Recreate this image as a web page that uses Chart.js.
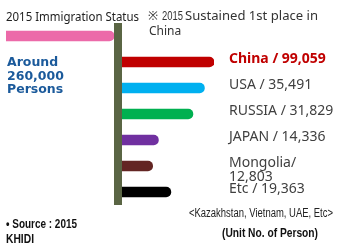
<!DOCTYPE html>
<html><head><meta charset="utf-8">
<script src="https://cdn.jsdelivr.net/npm/chart.js@4.4.1/dist/chart.umd.min.js"></script>
<style>html,body{margin:0;padding:0;background:#fff}#wrap{width:339px;height:244px;position:relative}</style>
</head><body><div id="wrap"><canvas id="c"></canvas></div>
<script>
// ---- data ----
const categories = ['Total', 'China', 'USA', 'RUSSIA', 'JAPAN', 'Mongolia', 'Etc'];
const persons = [260000, 99059, 35491, 31829, 14336, 12803, 19363];
// bar lengths as drawn in the infographic (index, China = 100; the bars are not to scale)
const barIndex = [117, 100, 90, 78, 42, 36, 55];
const totalLabel = ['Around', '260,000', 'Persons'];
const otherNote = '<Kazakhstan, Vietnam, UAE, Etc>';

const fmt = n => n.toLocaleString('en-US');
const valueLabels = categories.map((c, i) => i === 0 ? null :
  (c === 'Mongolia' ? [c + '/', fmt(persons[i])] : [c + ' / ' + fmt(persons[i])]));

const BASE = '"Noto Sans", "Noto Sans CJK KR", sans-serif';

function fitText(ctx, text, x, y, font, color, width) {
  ctx.save();
  ctx.font = font;
  ctx.fillStyle = color;
  ctx.textBaseline = 'alphabetic';
  ctx.textAlign = 'left';
  const w = ctx.measureText(text).width;
  const s = width ? width / w : 1;
  ctx.translate(x, y);
  ctx.scale(s, 1);
  ctx.fillText(text, 0, 0);
  ctx.restore();
}

const labelPlugin = {
  id: 'labels',
  afterDatasetsDraw(chart) {
    const ctx = chart.ctx;
    const meta = chart.getDatasetMeta(0);
    const x = chart.chartArea.right + 15;
    meta.data.forEach((bar, i) => {
      const lines = valueLabels[i];
      if (!lines) return;
      ctx.save();
      ctx.font = (i === 1 ? 'bold ' : '') + '14px ' + BASE;
      ctx.fillStyle = i === 1 ? '#c00000' : '#404040';
      ctx.textBaseline = 'alphabetic';
      lines.forEach((t, k) => ctx.fillText(t, x, bar.y + 1 + k * 14));
      ctx.restore();
    });
  },
  afterDraw(chart) {
    const ctx = chart.ctx;
    // headings
    fitText(ctx, '2015 Immigration Status', 6, 21, '12px ' + BASE, '#222', 133);
    fitText(ctx, '\u203B', 148, 20, '12px ' + BASE, '#333');
    fitText(ctx, '2015', 162, 20, '12px "Liberation Sans"', '#333', 21);
    fitText(ctx, 'Sustained 1st place in', 185, 20, '12px ' + BASE, '#333', 133);
    fitText(ctx, 'China', 149, 35, '12px ' + BASE, '#333');
    // total
    totalLabel.forEach((t, k) => fitText(ctx, t, 7, 66 + k * 13.5, 'bold 12.5px "DejaVu Sans"', '#1b5a9b'));
    // notes
    fitText(ctx, otherNote, 189, 217, '12px "Liberation Sans"', '#222', 144);
    fitText(ctx, '(Unit No. of Person)', 222, 237, 'bold 12.5px "Liberation Sans"', '#111', 96);
    fitText(ctx, '\u2022 Source : 2015', 6, 228, 'bold 12px "Liberation Sans"', '#111', 71);
    fitText(ctx, 'KHIDI', 6, 242.5, 'bold 12px "Liberation Sans"', '#111', 28);
  }
};

new Chart(document.getElementById('c'), {
  type: 'bar',
  data: {
    labels: categories,
    datasets: [{
      data: categories.map((c, i) => i === 0 ? [-barIndex[0], 0] : [0, barIndex[i]]),
      backgroundColor: ['#ec6aa9', '#c00000', '#00b0f0', '#00b050', '#7030a0', '#632523', '#000000'],
      barThickness: 10,
      borderRadius: 5,
      borderSkipped: ctx => ctx.dataIndex === 0 ? 'right' : 'left'
    }]
  },
  options: {
    indexAxis: 'y',
    responsive: true,
    maintainAspectRatio: false,
    animation: false,
    layout: { padding: { left: 6, right: 125, top: 23, bottom: 39 } },
    plugins: { legend: { display: false }, tooltip: { enabled: false } },
    scales: {
      x: {
        type: 'linear',
        min: -barIndex[0],
        max: Math.max(...barIndex.slice(1)),
        afterBuildTicks: s => { s.ticks = [{ value: 0 }]; },
        ticks: { display: false },
        border: { display: false },
        grid: { z: 1, drawTicks: false, color: '#5a6544', lineWidth: 8 }
      },
      y: { display: false }
    }
  },
  plugins: [labelPlugin]
});
</script>
</body></html>
